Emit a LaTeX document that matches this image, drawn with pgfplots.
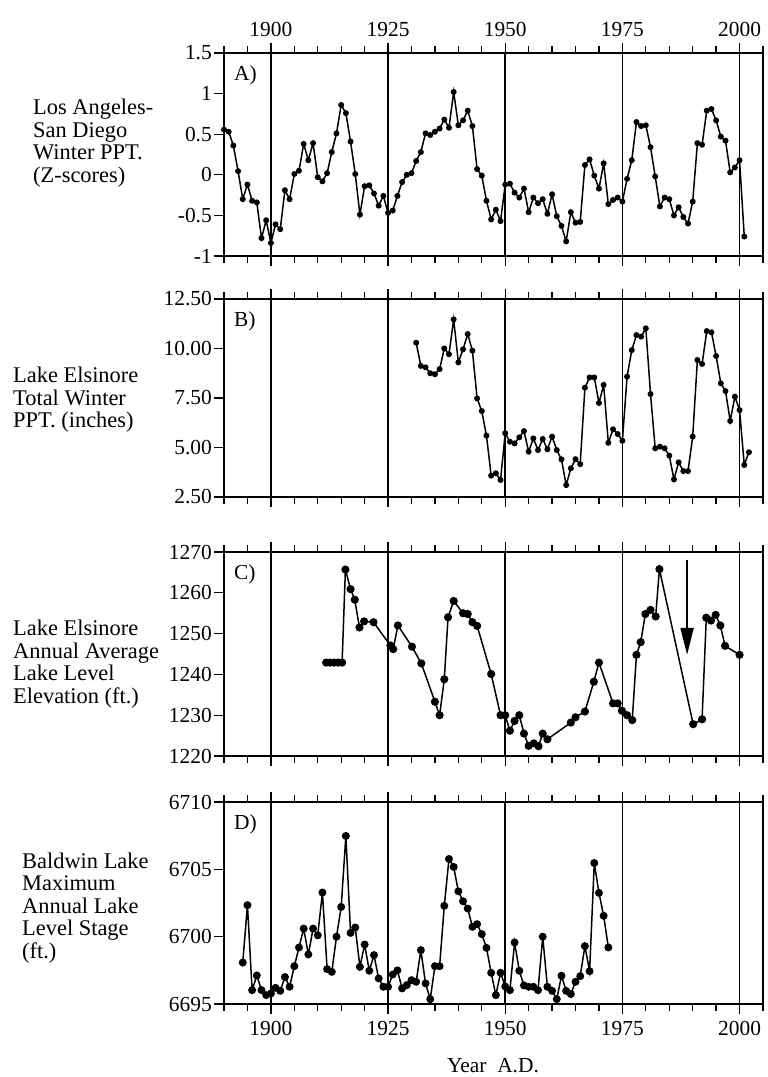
\documentclass[border=0pt]{standalone}
\usepackage{fontspec}
\setmainfont{Liberation Serif}
\usepackage{pgfplots}
\pgfplotsset{compat=1.18}
\usetikzlibrary{arrows.meta}

\pgfplotsset{
  panel/.style={
    scale only axis, width=539bp, xmin=1890, xmax=2005, clip=false,
    axis line style={line width=1.6bp},
    xtick={1900,1925,1950,1975,2000},
    minor xtick={1890,1895,...,2005},
    xmajorgrids, major grid style={line width=1.5bp, black},
    tick align=outside, major tick length=10bp, minor tick length=7bp,
    every tick/.style={black, line width=1.3bp},
    ytick pos=left,
    ticklabel style={font=\fontsize{21.5}{22}\selectfont, inner sep=2bp},
    xticklabels={},
  },
  series/.style={black, line width=1.5bp, mark=*, mark size=#1,
    mark options={solid, fill=black}},
}

\begin{document}
\begin{tikzpicture}
\useasboundingbox (0,0) rectangle (768bp,-1077bp);

% A) Los Angeles - San Diego winter precipitation
\begin{axis}[panel, at={(224bp,-256bp)}, anchor=south west, height=203bp,
  ymin=-1, ymax=1.5,
  ytick={-1,-0.5,0,0.5,1,1.5}, yticklabels={-1,-0.5,0,0.5,1,1.5},
  xticklabel pos=upper, xticklabels={1900,1925,1950,1975,2000},
  x tick label style={yshift=4bp}]
\addplot[series=2.2bp] coordinates {
(1890,0.556)(1891,0.53)(1892,0.36)(1893,0.045)(1894,-0.30)(1895,-0.12)
(1896,-0.32)(1897,-0.34)(1898,-0.78)(1899,-0.56)(1900,-0.84)(1901,-0.61)
(1902,-0.67)(1903,-0.19)(1904,-0.30)(1905,0.01)(1906,0.05)(1907,0.38)
(1908,0.18)(1909,0.39)(1910,-0.03)(1911,-0.08)(1912,0.02)(1913,0.28)
(1914,0.51)(1915,0.86)(1916,0.76)(1917,0.41)(1918,0.01)(1919,-0.49)
(1920,-0.14)(1921,-0.13)(1922,-0.23)(1923,-0.38)(1924,-0.26)(1925,-0.47)
(1926,-0.44)(1927,-0.26)(1928,-0.09)(1929,0.0)(1930,0.02)(1931,0.17)
(1932,0.28)(1933,0.51)(1934,0.49)(1935,0.53)(1936,0.57)(1937,0.68)
(1938,0.58)(1939,1.02)(1940,0.61)(1941,0.67)(1942,0.79)(1943,0.60)
(1944,0.07)(1945,-0.01)(1946,-0.32)(1947,-0.55)(1948,-0.43)(1949,-0.57)
(1950,-0.12)(1951,-0.11)(1952,-0.22)(1953,-0.28)(1954,-0.17)(1955,-0.46)
(1956,-0.28)(1957,-0.35)(1958,-0.30)(1959,-0.48)(1960,-0.24)(1961,-0.51)
(1962,-0.63)(1963,-0.82)(1964,-0.46)(1965,-0.59)(1966,-0.58)(1967,0.12)
(1968,0.19)(1969,-0.01)(1970,-0.17)(1971,0.14)(1972,-0.36)(1973,-0.31)
(1974,-0.28)(1975,-0.33)(1976,-0.05)(1977,0.18)(1978,0.65)(1979,0.60)
(1980,0.61)(1981,0.34)(1982,-0.02)(1983,-0.39)(1984,-0.28)(1985,-0.30)
(1986,-0.50)(1987,-0.40)(1988,-0.52)(1989,-0.60)(1990,-0.33)(1991,0.39)
(1992,0.37)(1993,0.79)(1994,0.81)(1995,0.67)(1996,0.47)(1997,0.42)
(1998,0.03)(1999,0.09)(2000,0.18)(2001,-0.76)
};
\node[anchor=north west, inner sep=0pt, font=\fontsize{21.5}{22}\selectfont]
  at ([xshift=10bp,yshift=-12bp]rel axis cs:0,1) {A)};
\end{axis}

% B) Lake Elsinore total winter precipitation
\begin{axis}[panel, at={(224bp,-497bp)}, anchor=south west, height=198bp,
  ymin=2.5, ymax=12.5,
  ytick={2.5,5,7.5,10,12.5}, yticklabels={2.50,5.00,7.50,10.00,12.50}]
\addplot[series=2.2bp] coordinates {
(1931,10.29)(1932,9.12)(1933,9.05)(1934,8.75)(1935,8.70)(1936,8.96)
(1937,10.0)(1938,9.71)(1939,11.47)(1940,9.30)(1941,9.96)(1942,10.73)
(1943,9.89)(1944,7.48)(1945,6.84)(1946,5.60)(1947,3.58)(1948,3.70)
(1949,3.36)(1950,5.72)(1951,5.29)(1952,5.21)(1953,5.51)(1954,5.83)
(1955,4.79)(1956,5.46)(1957,4.87)(1958,5.43)(1959,4.91)(1960,5.55)
(1961,4.87)(1962,4.40)(1963,3.10)(1964,3.95)(1965,4.41)(1966,4.16)
(1967,8.02)(1968,8.54)(1969,8.54)(1970,7.25)(1971,8.16)(1972,5.24)
(1973,5.92)(1974,5.68)(1975,5.34)(1976,8.58)(1977,9.92)(1978,10.68)
(1979,10.60)(1980,11.02)(1981,7.70)(1982,4.96)(1983,5.04)(1984,4.96)
(1985,4.59)(1986,3.39)(1987,4.25)(1988,3.81)(1989,3.81)(1990,5.55)
(1991,9.42)(1992,9.22)(1993,10.88)(1994,10.82)(1995,9.62)(1996,8.24)
(1997,7.85)(1998,6.34)(1999,7.57)(2000,6.89)(2001,4.12)(2002,4.76)
};
\node[anchor=north west, inner sep=0pt, font=\fontsize{21.5}{22}\selectfont]
  at ([xshift=10bp,yshift=-12bp]rel axis cs:0,1) {B)};
\end{axis}

% C) Lake Elsinore annual average lake level
\begin{axis}[panel, at={(224bp,-756bp)}, anchor=south west, height=204bp,
  ymin=1220, ymax=1270,
  ytick={1220,1230,1240,1250,1260,1270},
  yticklabels={1220,1230,1240,1250,1260,1270}]
\addplot[series=3.3bp] coordinates {
(1911.8,1242.9)(1912.6,1242.9)(1913.5,1242.9)(1914.4,1242.9)(1915.2,1242.9)
(1915.9,1265.7)(1917.0,1260.9)(1917.9,1258.3)(1918.9,1251.5)(1919.9,1253.0)
(1921.9,1252.8)(1925.5,1247.1)(1926.1,1246.2)(1927.1,1252.0)(1930.1,1246.8)
(1932.1,1242.7)(1935.0,1233.3)(1936.0,1230.0)(1937.0,1238.8)(1937.8,1254.0)
(1939.0,1258.0)(1941.0,1255.0)(1942.0,1254.8)(1943.0,1252.8)(1944.0,1251.9)
(1947.0,1240.1)(1949.0,1230.0)(1950.0,1230.0)(1951.0,1226.2)(1952.0,1228.6)
(1953.0,1230.0)(1954.0,1225.5)(1955.0,1222.5)(1956.1,1223.1)(1957.1,1222.4)
(1958.0,1225.5)(1959.0,1224.1)(1964.0,1228.2)(1965.0,1229.5)(1967.0,1230.9)
(1968.9,1238.2)(1970.0,1242.9)(1973.0,1232.9)(1974.0,1232.9)(1974.9,1231.1)
(1976.0,1230.0)(1977.1,1228.8)(1978.0,1244.8)(1978.9,1247.9)(1979.9,1254.8)
(1981.0,1255.8)(1982.1,1254.2)(1982.9,1265.8)(1990.1,1227.8)(1992.0,1229.0)
(1992.9,1253.9)(1993.9,1253.2)(1994.9,1254.6)(1995.9,1252.0)(1996.9,1247.0)
(2000.0,1244.8)
};
\draw[line width=2bp, -{Triangle[width=13bp,length=27bp]}]
  (axis cs:1988.8,1268) -- (axis cs:1988.8,1244.8);
\node[anchor=north west, inner sep=0pt, font=\fontsize{21.5}{22}\selectfont]
  at ([xshift=10bp,yshift=-12bp]rel axis cs:0,1) {C)};
\end{axis}

% D) Baldwin Lake maximum annual lake level
\begin{axis}[panel, at={(224bp,-1004bp)}, anchor=south west, height=202bp,
  ymin=6695, ymax=6710,
  ytick={6695,6700,6705,6710}, yticklabels={6695,6700,6705,6710},
  xticklabel pos=lower, xticklabels={1900,1925,1950,1975,2000},
  x tick label style={yshift=-5bp}]
\addplot[series=3.2bp] coordinates {
(1894,6698.08)(1895,6702.34)(1896,6696.03)(1897,6697.12)(1898,6696.03)
(1899,6695.66)(1900,6695.78)(1901,6696.2)(1902,6695.98)(1903,6697.0)
(1904,6696.28)(1905,6697.81)(1906,6699.2)(1907,6700.6)(1908,6698.68)
(1909,6700.6)(1910,6700.1)(1911,6703.28)(1912,6697.59)(1913,6697.39)
(1914,6700.0)(1915,6702.21)(1916,6707.48)(1917,6700.28)(1918,6700.68)
(1919,6697.76)(1920,6699.42)(1921,6697.47)(1922,6698.63)(1923,6696.9)
(1924,6696.28)(1925,6696.28)(1926,6697.19)(1927,6697.5)(1928,6696.16)
(1929,6696.4)(1930,6696.77)(1931,6696.65)(1932,6699.0)(1933,6696.53)
(1934,6695.36)(1935,6697.81)(1936,6697.81)(1937,6702.29)(1938,6705.77)
(1939,6705.18)(1940,6703.37)(1941,6702.63)(1942,6702.09)(1943,6700.73)
(1944,6700.93)(1945,6700.19)(1946,6699.17)(1947,6697.32)(1948,6695.66)
(1949,6697.32)(1950,6696.3)(1951,6696.03)(1952,6699.57)(1953,6697.47)
(1954,6696.38)(1955,6696.28)(1956,6696.28)(1957,6696.03)(1958,6700.0)
(1959,6696.28)(1960,6695.98)(1961,6695.36)(1962,6697.1)(1963,6695.98)
(1964,6695.74)(1965,6696.65)(1966,6697.07)(1967,6699.3)(1968,6697.44)
(1969,6705.47)(1970,6703.25)(1971,6701.55)(1972,6699.2)
};
\node[anchor=north west, inner sep=0pt, font=\fontsize{21.5}{22}\selectfont]
  at ([xshift=10bp,yshift=-12bp]rel axis cs:0,1) {D)};
\end{axis}

% panel descriptions
\begin{scope}[every node/.style={anchor=west, align=left, inner sep=0pt,
    font=\fontsize{22.5}{22.5}\selectfont}]
\node at (33bp,-143bp) {Los Angeles-\\San Diego\\Winter PPT.\\(Z-scores)};
\node at (13bp,-400bp) {Lake Elsinore\\Total Winter\\PPT. (inches)};
\node at (13bp,-664bp) {Lake Elsinore\\Annual Average\\Lake Level\\Elevation (ft.)};
\node at (22bp,-908bp) {Baldwin Lake\\Maximum\\Annual Lake\\Level Stage\\(ft.)};
\end{scope}
\node[anchor=base, inner sep=0pt, font=\fontsize{21.5}{22}\selectfont]
  at (493bp,-1072bp) {Year\hspace{0.5em}A.D.};
\end{tikzpicture}
\end{document}
